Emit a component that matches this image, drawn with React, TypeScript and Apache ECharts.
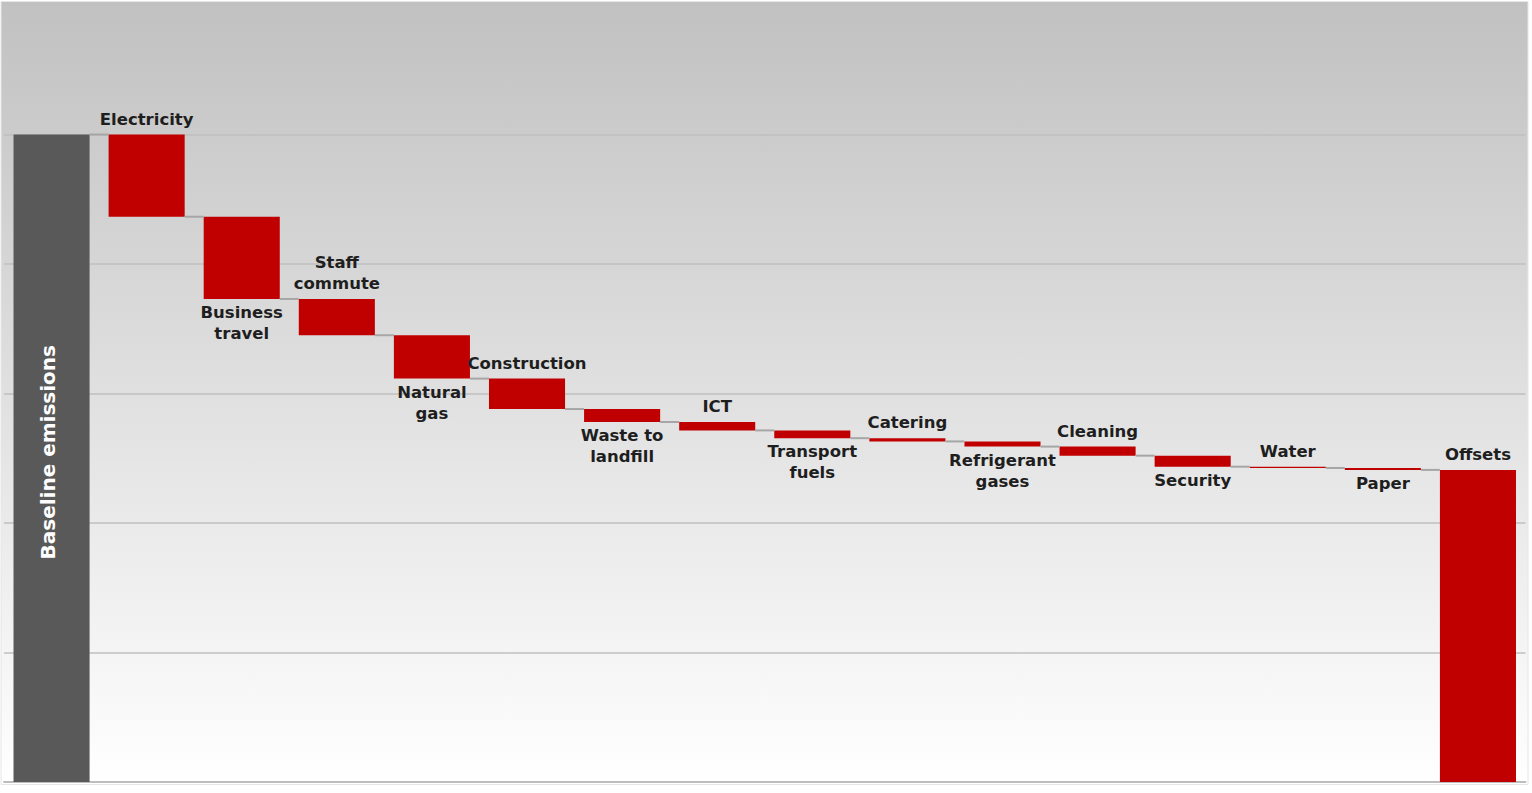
import React, { useEffect, useRef } from "react";
import * as echarts from "echarts";

const categories = [
  "Baseline emissions",
  "Electricity",
  "Business\ntravel",
  "Staff\ncommute",
  "Natural\ngas",
  "Construction",
  "Waste to\nlandfill",
  "ICT",
  "Transport\nfuels",
  "Catering",
  "Refrigerant\ngases",
  "Cleaning",
  "Security",
  "Water",
  "Paper",
  "Offsets",
];
const baselineValue = 100;
const reductions = [12.7, 12.7, 5.6, 6.7, 4.7, 2.0, 1.3, 1.2, 0.5, 0.8, 1.4, 1.7, 0.2, 0.3];
const offsetsValue = 48.2;
const labelPositions = [
  "inside", "top", "bottom", "top", "bottom", "top", "bottom", "top",
  "bottom", "top", "bottom", "top", "bottom", "top", "bottom", "top",
];
const yTicks = [0, 20, 40, 60, 80, 100, 120];

const RED = "#C00000";
const GREY = "#595959";
const FONT = "DejaVu Sans";

export default function App() {
  const ref = useRef<HTMLDivElement>(null);
  useEffect(() => {
    document.body.style.margin = "0";
    if (!ref.current) return;
    const chart = echarts.init(ref.current, undefined, { renderer: "svg" });

    // cumulative levels after each step
    const levels: number[] = [baselineValue];
    let cur = baselineValue;
    reductions.forEach((r) => {
      cur = Math.round((cur - r) * 100) / 100;
      levels.push(cur);
    });

    const baseData = [0, ...levels.slice(1), 0];
    const values = [baselineValue, ...reductions, offsetsValue];

    const valueData = values.map((v, i) => {
      const pos = labelPositions[i];
      const isBase = i === 0;
      return {
        value: v,
        itemStyle: { color: isBase ? GREY : RED },
        label: isBase
          ? {
              show: true,
              position: "inside",
              rotate: 90,
              offset: [6, -4],
              color: "#ffffff",
              fontSize: 20,
              fontWeight: "bold",
              fontFamily: FONT,
              formatter: categories[i],
            }
          : {
              show: true,
              position: pos,
              distance: pos === "top" ? 5 : 3,
              color: "#1e1e1e",
              fontSize: 16.5,
              fontWeight: "bold",
              fontFamily: FONT,
              lineHeight: 21,
              align: "center",
              formatter: categories[i],
            },
      };
    });

    const connectorData = levels.map((lvl, i) => [i, lvl]);

    chart.setOption({
      animation: false,
      backgroundColor: "#ffffff",
      graphic: [
        {
          type: "rect",
          z: -10,
          silent: true,
          shape: { x: 1, y: 1.5, width: 1527, height: 783 },
          style: {
            fill: new echarts.graphic.LinearGradient(0, 0, 0, 1, [
              { offset: 0, color: "#c1c1c1" },
              { offset: 1, color: "#ffffff" },
            ]),
            stroke: "#e6e6e6",
            lineWidth: 1,
          },
        },
      ],
      grid: { left: 4, right: 6.5, top: 5, bottom: 11, containLabel: false },
      xAxis: {
        type: "category",
        data: categories,
        axisLabel: { show: false },
        axisTick: { show: false },
        axisLine: { show: true, lineStyle: { color: "#bdbdbd", width: 2 } },
      },
      yAxis: {
        type: "value",
        min: yTicks[0],
        max: yTicks[yTicks.length - 1],
        interval: 20,
        axisLabel: { show: false },
        axisLine: { show: false },
        axisTick: { show: false },
        splitLine: { show: true, lineStyle: { color: "#bfbfbf", width: 1.5 } },
      },
      series: [
        {
          type: "bar",
          stack: "w",
          barWidth: "80%",
          itemStyle: { color: "transparent" },
          emphasis: { disabled: true },
          silent: true,
          data: baseData,
        },
        {
          type: "bar",
          stack: "w",
          barWidth: "80%",
          data: valueData,
          z: 3,
        },
        {
          type: "custom",
          silent: true,
          z: 4,
          encode: { x: 0, y: 1 },
          data: connectorData,
          renderItem: (_params: any, api: any) => {
            const i = api.value(0);
            const lvl = api.value(1);
            const p = api.coord([i, lvl]);
            const cw = api.size([1, 0])[0];
            const bw = cw * 0.8;
            return {
              type: "line",
              shape: { x1: p[0] + bw / 2, y1: p[1], x2: p[0] + cw - bw / 2, y2: p[1] },
              style: { stroke: "#a6a6a6", lineWidth: 2 },
            };
          },
        },
      ],
    });
    return () => chart.dispose();
  }, []);
  return <div ref={ref} style={{ width: 1532, height: 793 }} />;
}
